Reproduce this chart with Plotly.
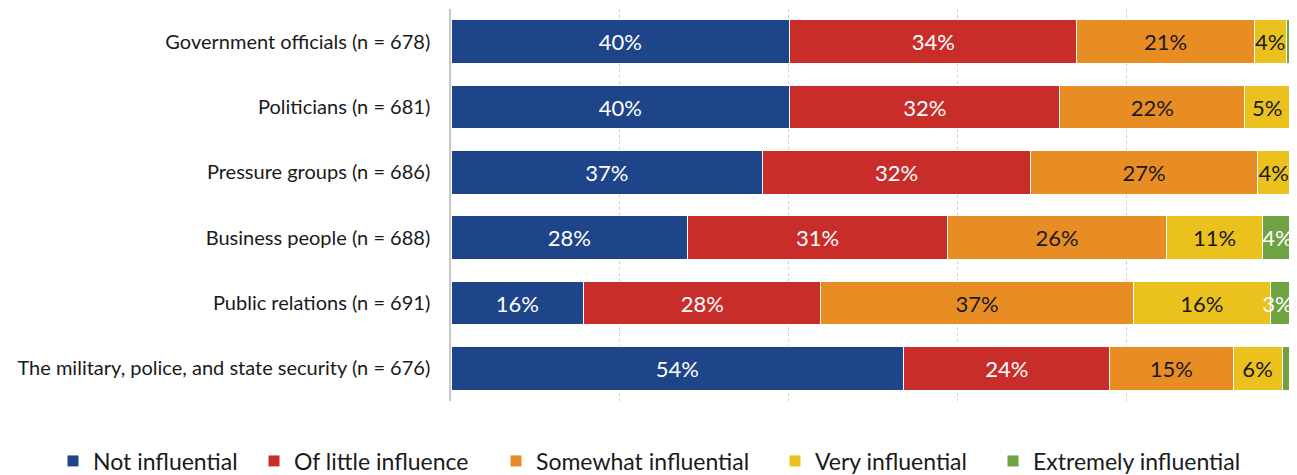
import plotly.graph_objects as go

categories = [
    "Government officials (n = 678)",
    "Politicians (n = 681)",
    "Pressure groups (n = 686)",
    "Business people (n = 688)",
    "Public relations (n = 691)",
    "The military, police, and state security (n = 676)",
]
series_names = ["Not influential", "Of little influence", "Somewhat influential",
                "Very influential", "Extremely influential"]
not_influential = [40.1, 40.1, 36.9, 28.0, 15.7, 53.6]
little_influence = [34.0, 32.0, 31.7, 30.8, 28.1, 24.4]
somewhat_influential = [21.0, 21.9, 26.9, 25.9, 37.0, 14.6]
very_influential = [3.8, 5.3, 3.8, 11.4, 16.2, 5.8]
extremely_influential = [1.1, 0.7, 0.7, 3.9, 3.0, 1.6]

series_values = [not_influential, little_influence, somewhat_influential,
                 very_influential, extremely_influential]
colors = ["#1E4589", "#C92D2A", "#E88D23", "#EBC11E", "#6FA342"]
text_colors = ["white", "white", "#1a1a1a", "#1a1a1a", "white"]
text_anchors = ["middle", "middle", "middle", "middle", "end"]

FONT = "Lato"
FIG_W, FIG_H = 1289, 467   # page body has an 8px margin
# left edge of each legend entry (figure pixels)
legend_left_px = [45, 246, 488, 767, 985]

fig = go.Figure()
for i, (name, vals, col, tcol, anc) in enumerate(
        zip(series_names, series_values, colors, text_colors, text_anchors)):
    lg = "legend" if i == 0 else f"legend{i + 1}"
    fig.add_trace(go.Bar(
        y=categories, x=vals, name=name, orientation="h",
        marker=dict(color=col, line=dict(color="white", width=1)),
        text=[f"{v:.0f}%" if v >= 2.5 else "" for v in vals],
        textposition="inside", insidetextanchor=anc, textangle=0,
        constraintext="none", cliponaxis=False,
        textfont=dict(family=FONT, size=22, color=tcol),
        hoverinfo="skip", legend=lg, showlegend=True,
    ))
    fig.update_layout({lg: dict(
        orientation="h", xref="container", yref="container",
        x=legend_left_px[i] / FIG_W, xanchor="left",
        y=14 / FIG_H, yanchor="middle",
        font=dict(family=FONT, size=23, color="#1a1a1a"),
        bgcolor="rgba(0,0,0,0)", itemwidth=30, visible=True,
    )})

fig.update_layout(
    showlegend=True,
    barmode="stack", bargap=0.33,
    width=FIG_W, height=FIG_H,
    margin=dict(l=443, r=1, t=1, b=74),
    paper_bgcolor="white", plot_bgcolor="white",
    font=dict(family=FONT, size=20, color="#1a1a1a"),
    uniformtext=dict(minsize=22, mode="show"),
    xaxis=dict(range=[0, 100.05], showticklabels=False, showgrid=True,
               gridcolor="#d0d0d0", griddash="dot", gridwidth=1,
               dtick=20, zeroline=False, showline=False, fixedrange=True),
    yaxis=dict(autorange="reversed", showline=True, linecolor="#c8c8c8",
               linewidth=1.5, ticks="", ticklabelstandoff=15,
               tickfont=dict(family=FONT, size=20, color="#1a1a1a")),
)

fig.write_html("out.html")
